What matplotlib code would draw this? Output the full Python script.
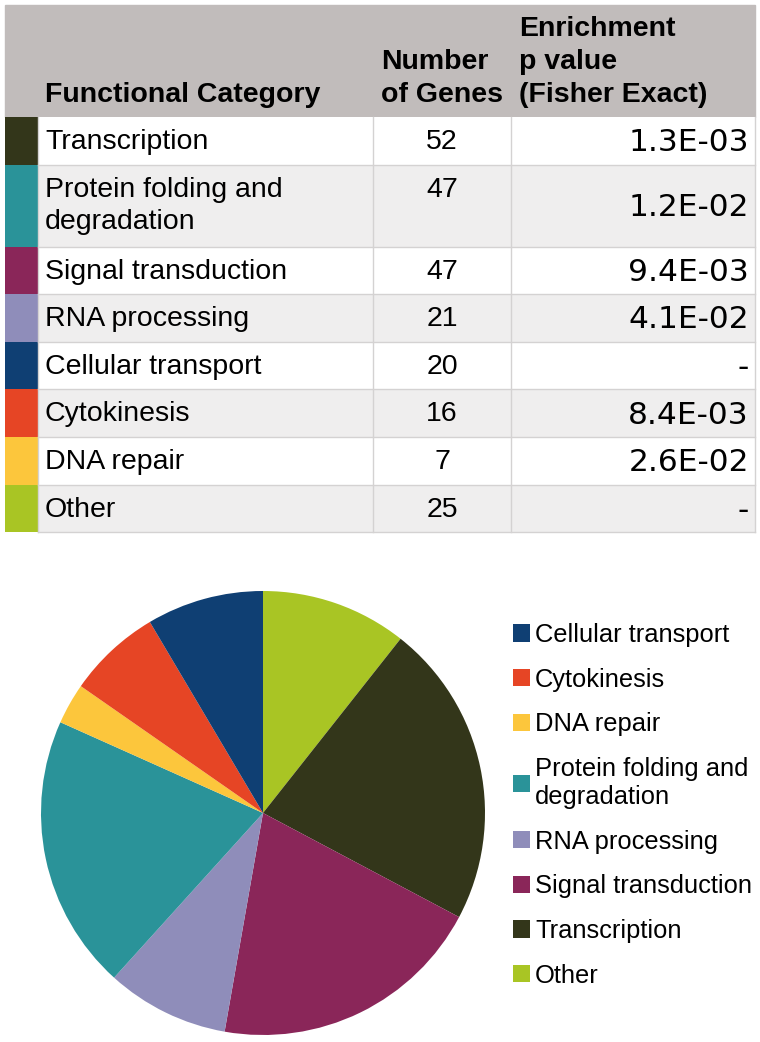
import matplotlib.pyplot as plt
from matplotlib.patches import Rectangle

# table data (table order)
categories = ["Transcription", "Protein folding and\ndegradation", "Signal transduction",
              "RNA processing", "Cellular transport", "Cytokinesis", "DNA repair", "Other"]
n_genes = [52, 47, 47, 21, 20, 16, 7, 25]
p_values = ["1.3E-03", "1.2E-02", "9.4E-03", "4.1E-02", "-", "8.4E-03", "2.6E-02", "-"]
colors = ["#33361a", "#2a9399", "#8a2659", "#8f8dba", "#0f3f73", "#e64525", "#fcc63c", "#a9c524"]

# pie order (clockwise from top) and legend order, as indices into the table lists
pie_order = [7, 0, 2, 3, 1, 6, 5, 4]
legend_order = [4, 5, 6, 1, 3, 2, 0, 7]

W, H = 760, 1042
fig = plt.figure(figsize=(W / 100, H / 100), dpi=100)
fig.patch.set_facecolor("white")

# ---- table drawn in pixel coordinates ----
tab = fig.add_axes([0, 0, 1, 1])
tab.set_xlim(0, W)
tab.set_ylim(H, 0)
tab.axis("off")

x0, x_sw, x_c1, x_c2, x1 = 5, 38, 373, 511, 755
head_top, head_bot = 5, 117
grid = "#d4d2d2"
font = "Liberation Sans"
fs = 20.5

tab.add_patch(Rectangle((x0, head_top), x1 - x0, head_bot - head_top, color="#c1bcbb", zorder=1))
tab.text(45, 95, "Functional Category", fontsize=fs, fontweight="bold", family=font, va="center")
for i, line in enumerate(["Number", "of Genes"]):
    tab.text(381, 62 + 33 * i, line, fontsize=fs, fontweight="bold", family=font, va="center")
for i, line in enumerate(["Enrichment", "p value", "(Fisher Exact)"]):
    tab.text(519, 29 + 33 * i, line, fontsize=fs, fontweight="bold", family=font, va="center")

y = head_bot
for i, (cat, n, p, c) in enumerate(zip(categories, n_genes, p_values, colors)):
    lines = cat.split("\n")
    h = 47.6 if len(lines) == 1 else 82
    bg = "white" if i % 2 == 0 else "#efeeee"
    tab.add_patch(Rectangle((x_sw, y), x1 - x_sw, h, facecolor=bg, edgecolor="none", zorder=1))
    tab.add_patch(Rectangle((x0, y), x_sw - x0, h, facecolor=c, edgecolor="none", zorder=2))
    tab.plot([x_sw, x1], [y + h, y + h], color=grid, lw=1, zorder=3)
    for j, line in enumerate(lines):
        tab.text(45, y + 25 + 32 * j, line, fontsize=fs, family=font, va="center")
    tab.text(442, y + 25, str(n), fontsize=fs, family=font, va="center", ha="center")
    tab.text(749, y + h / 2 + 2, p, fontsize=22.5, family="DejaVu Sans", va="center", ha="right")
    y += h
table_bottom = y
for xv in [x_sw, x_c1, x_c2, x1]:
    tab.plot([xv, xv], [head_bot, table_bottom], color=grid, lw=1, zorder=3)

# ---- pie chart ----
cx, cy, r = 263, 813, 222
pie_ax = fig.add_axes([(cx - r) / W, (H - cy - r) / H, 2 * r / W, 2 * r / H])
vals = [n_genes[k] for k in pie_order]
cols = [colors[k] for k in pie_order]
wedges, _ = pie_ax.pie(vals, colors=cols, startangle=90, counterclock=False,
                       wedgeprops=dict(linewidth=0), radius=1)
pie_ax.set_xlim(-1, 1)
pie_ax.set_ylim(-1, 1)
pie_ax.set_aspect("equal")

handles = [wedges[pie_order.index(k)] for k in legend_order]
labels = [categories[k] for k in legend_order]
leg = fig.legend(handles, labels, loc="upper left", bbox_to_anchor=(513 / W, 1 - 623 / H),
                 frameon=False, handlelength=0.67, handleheight=0.67, handletextpad=0.2,
                 labelspacing=0.81, borderpad=0, borderaxespad=0,
                 prop={"family": font, "size": 18.4})

fig.savefig("out.png", dpi=100, facecolor="white")
